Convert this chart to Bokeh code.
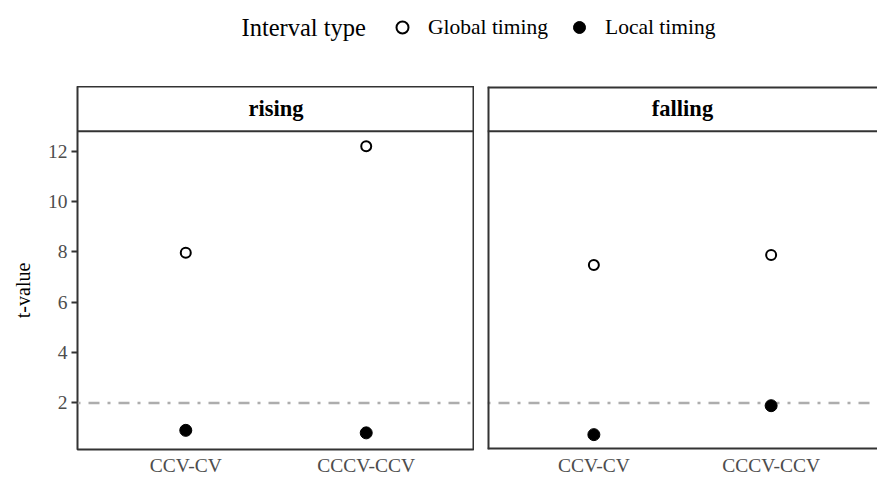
from bokeh.plotting import figure
from bokeh.models import (FactorRange, Range1d, Span, Legend, LegendItem,
                          FixedTicker, Label)
from bokeh.layouts import column, row
from bokeh.embed import file_html
from bokeh.resources import INLINE

# ---------------- data ----------------
contexts = ["CCV-CV", "CCCV-CCV"]
facets = ["rising", "falling"]
global_timing = {"rising": [7.97, 12.2], "falling": [7.48, 7.88]}
local_timing = {"rising": [0.91, 0.81], "falling": [0.74, 1.89]}
y_ticks = [2, 4, 6, 8, 10, 12]
threshold = 2.0
legend_title = "Interval type"
series_labels = ["Global timing", "Local timing"]
y_label = "t-value"

# ---------------- style ----------------
FONT = "Liberation Serif"
BORDER = "#333333"
Y0, Y1 = 0.149, 14.576      # full frame (panel + strip)
STRIP = 12.793              # panel / strip divider
PANEL_H = 392
BOTTOM = 28
PAD = 0.1                   # x range padding (fraction)
TITLE_W = 36


def make_panel(facet, first, width, min_left):
    p = figure(x_range=FactorRange(factors=contexts, range_padding=PAD),
               y_range=Range1d(Y0, Y1), width=width, height=PANEL_H,
               min_border_left=min_left, min_border_right=0,
               min_border_top=0, min_border_bottom=BOTTOM,
               y_axis_location="left" if first else None,
               output_backend="svg", toolbar_location=None)
    p.xgrid.visible = False
    p.ygrid.visible = False
    p.background_fill_color = "white"
    p.border_fill_color = "white"

    # x axis
    xa = p.xaxis[0]
    xa.axis_line_color = None
    xa.major_tick_line_color = None
    xa.minor_tick_line_color = None
    xa.major_tick_out = 0
    xa.major_tick_in = 0
    xa.major_label_standoff = 5
    xa.major_label_text_font = FONT
    xa.major_label_text_font_size = "19.5px"
    xa.major_label_text_color = "#4d4d4d"

    if first:
        ya = p.yaxis[0]
        ya.ticker = FixedTicker(ticks=y_ticks)
        ya.minor_tick_line_color = None
        ya.major_tick_in = 0
        ya.axis_line_color = None
        ya.major_tick_out = 6
        ya.major_tick_line_color = BORDER
        ya.major_tick_line_width = 2
        ya.major_label_standoff = 4
        ya.major_label_text_font = FONT
        ya.major_label_text_font_size = "19.5px"
        ya.major_label_text_color = "#4d4d4d"
        p.outline_line_color = BORDER
        p.outline_line_width = 2
    else:
        p.outline_line_color = None
        for loc in (Y0, Y1):
            p.add_layout(Span(location=loc, dimension="width",
                              line_color=BORDER, line_width=4))
        p.add_layout(Span(location=-PAD, dimension="height",
                          line_color=BORDER, line_width=4))

    # strip divider
    p.add_layout(Span(location=STRIP, dimension="width",
                      line_color=BORDER, line_width=2))
    # strip label
    p.add_layout(Label(x=len(contexts) / 2, y=(STRIP + Y1) / 2, text=facet,
                       text_font=FONT, text_font_size="22.5px",
                       text_font_style="bold", text_align="center",
                       text_baseline="middle", text_color="black"))

    # threshold line
    p.add_layout(Span(location=threshold, dimension="width",
                      line_color="#adadad", line_width=2.5,
                      line_dash="3 8 11 8", level="underlay"))

    p.scatter(x=contexts, y=global_timing[facet], marker="circle", size=10,
              fill_color=None, line_color="black", line_width=2)
    p.scatter(x=contexts, y=local_timing[facet], marker="circle", size=12,
              fill_color="black", line_color="black", line_width=1)
    return p


# y-axis title strip (shares the panels' vertical scale)
tf = figure(width=TITLE_W, height=PANEL_H, x_range=Range1d(0, TITLE_W),
            y_range=Range1d(Y0, Y1), x_axis_location=None, y_axis_location=None,
            min_border_left=0, min_border_right=0, min_border_top=0,
            min_border_bottom=BOTTOM, output_backend="svg",
            toolbar_location=None)
tf.xgrid.visible = False
tf.ygrid.visible = False
tf.outline_line_color = None
tf.add_layout(Label(x=22, y=(Y0 + STRIP) / 2, text=y_label, angle=90,
                    angle_units="deg", text_font=FONT, text_font_size="20px",
                    text_align="center", text_baseline="middle",
                    text_color="black"))

left = make_panel(facets[0], True, 474 - TITLE_W, 77 - TITLE_W)
right = make_panel(facets[1], False, 403, 13)

# ---------------- legend ----------------
LW, LH = 877, 86
lf = figure(width=LW, height=LH, x_range=Range1d(0, LW), y_range=Range1d(0, LH),
            x_axis_location=None, y_axis_location=None, min_border=0,
            output_backend="svg", toolbar_location=None)
lf.xgrid.visible = False
lf.ygrid.visible = False
lf.outline_line_color = None
nan = float("nan")
r1 = lf.scatter(x=[nan], y=[nan], marker="circle", size=10, fill_color=None,
                line_color="black", line_width=2)
r2 = lf.scatter(x=[nan], y=[nan], marker="circle", size=12, fill_color="black",
                line_color="black", line_width=1)
legend = Legend(items=[LegendItem(label=series_labels[0], renderers=[r1]),
                       LegendItem(label=series_labels[1], renderers=[r2])],
                orientation="horizontal", location=(387, 44),
                glyph_width=30, glyph_height=30, label_standoff=11,
                spacing=16, padding=0, margin=0,
                border_line_color=None, background_fill_alpha=0,
                label_text_font=FONT, label_text_font_size="21.5px",
                label_text_color="black")
lf.add_layout(legend)
lf.add_layout(Label(x=241, y=LH - 27, text=legend_title, text_font=FONT,
                    text_font_size="24.5px", text_baseline="middle",
                    text_align="left", text_color="black"))

layout = column(lf, row(tf, left, right))
open("out.html", "w").write(file_html(layout, INLINE))
